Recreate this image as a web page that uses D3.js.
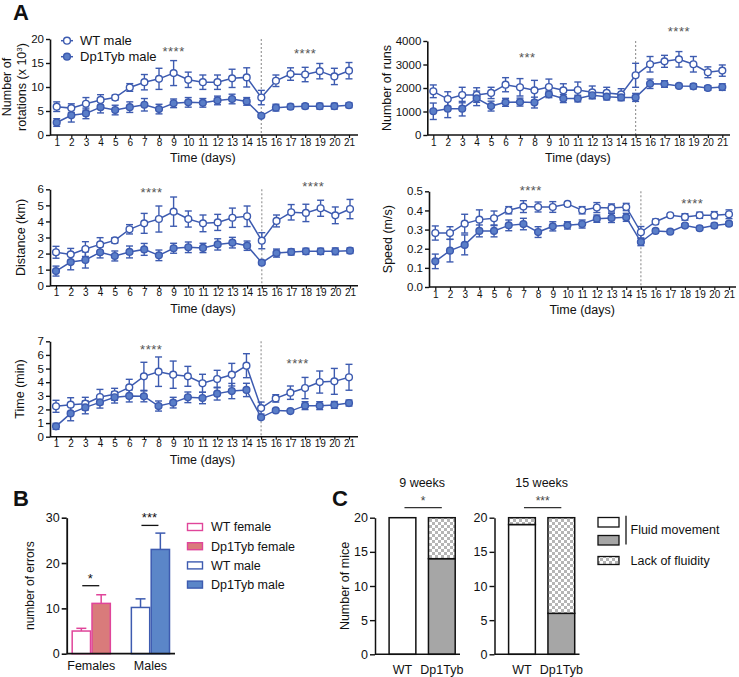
<!DOCTYPE html>
<html><head><meta charset="utf-8">
<script src="https://cdn.jsdelivr.net/npm/d3@7"></script>
<style>body{margin:0;background:#fff} text{font-family:"Liberation Sans",Arial,Helvetica,sans-serif;fill:#111}</style>
</head><body><svg id="c" width="739" height="677"></svg>
<script>
const days=[1,2,3,4,5,6,7,8,9,10,11,12,13,14,15,16,17,18,19,20,21];
const seriesNames=["WT male","Dp1Tyb male"];
const rotWT=[5.9,5.6,6.5,7.3,7.8,9.9,11.0,11.7,12.9,11.5,11.0,11.0,11.8,12.0,7.8,11.3,12.7,12.6,13.3,12.2,13.4];
const rotWTerr=[1.0,0.9,1.3,1.1,0.5,0.8,1.6,2.2,2.6,1.6,1.5,1.5,1.9,2.0,1.5,1.2,1.3,1.5,1.6,1.7,1.7];
const rotDp=[2.6,4.1,4.5,5.8,5.2,5.8,6.3,5.4,6.6,6.8,6.7,7.2,7.5,7.0,4.0,5.7,5.9,6.0,6.0,6.0,6.2];
const rotDperr=[0.8,1.4,1.1,1.2,1.0,1.1,1.3,1.0,0.9,1.0,0.9,0.9,1.0,0.8,0.3,0.7,0.5,0.5,0.6,0.6,0.5];
const runWT=[1860,1530,1700,1700,1790,2140,2030,1900,2040,1900,1915,1815,1790,1730,2540,3010,3135,3220,3010,2670,2740];
const runWTerr=[270,310,330,310,240,300,370,425,340,280,340,270,240,240,510,330,255,330,330,230,240];
const runDp=[1010,1120,1120,1560,1230,1390,1400,1380,1730,1550,1550,1690,1630,1600,1600,2180,2170,2090,2070,2000,2040];
const runDperr=[350,380,310,310,210,170,170,230,140,170,140,140,140,140,170,200,140,70,110,100,140];
const distWT=[2.08,1.95,2.28,2.57,2.82,3.51,3.88,4.15,4.61,4.15,3.88,3.94,4.23,4.32,2.80,4.03,4.57,4.53,4.82,4.38,4.77];
const distWTerr=[0.37,0.37,0.46,0.42,0.17,0.29,0.62,0.81,0.91,0.50,0.52,0.50,0.60,0.64,0.50,0.37,0.48,0.54,0.50,0.52,0.60];
const distDp=[0.91,1.47,1.60,2.08,1.85,2.10,2.26,1.89,2.33,2.39,2.35,2.57,2.68,2.49,1.43,2.03,2.10,2.14,2.14,2.14,2.18];
const distDperr=[0.31,0.48,0.50,0.35,0.31,0.37,0.37,0.33,0.31,0.33,0.29,0.35,0.33,0.29,0.08,0.25,0.19,0.19,0.19,0.21,0.17];
const spdWT=[0.282,0.282,0.331,0.352,0.359,0.401,0.420,0.418,0.418,0.434,0.401,0.415,0.413,0.418,0.286,0.341,0.375,0.366,0.375,0.375,0.380];
const spdWTerr=[0.037,0.033,0.049,0.051,0.038,0.019,0.031,0.026,0.028,0.010,0.019,0.026,0.021,0.019,0.030,0.014,0.005,0.017,0.016,0.019,0.023];
const spdDp=[0.134,0.190,0.220,0.293,0.293,0.322,0.329,0.287,0.317,0.322,0.329,0.357,0.361,0.364,0.235,0.293,0.289,0.321,0.307,0.321,0.331];
const spdDperr=[0.038,0.059,0.052,0.031,0.031,0.028,0.030,0.028,0.024,0.019,0.021,0.019,0.024,0.021,0.019,0.010,0.008,0.010,0.010,0.012,0.010];
const timWT=[2.23,2.35,2.42,2.91,3.11,3.62,4.43,4.77,4.55,4.43,3.92,4.23,4.55,5.21,2.10,2.81,3.23,3.57,4.01,4.06,4.36];
const timWTerr=[0.44,0.51,0.47,0.56,0.44,0.59,1.03,1.08,1.00,0.73,0.66,0.64,0.83,0.88,0.44,0.27,0.49,0.78,0.81,0.95,0.95];
const timDp=[0.76,1.71,2.15,2.52,2.89,2.99,2.96,2.25,2.50,2.89,2.84,3.16,3.35,3.43,1.42,1.93,1.88,2.28,2.28,2.33,2.47];
const timDperr=[0.22,0.54,0.47,0.42,0.42,0.44,0.40,0.37,0.39,0.39,0.42,0.47,0.56,0.49,0.10,0.10,0.10,0.29,0.29,0.25,0.22];

// Panel B
const bGroups=["Females","Males"];
const bSeries=["WT female","Dp1Tyb female","WT male","Dp1Tyb male"];
const bValues=[5.0,11.1,10.2,23.0];
const bErr=[0.6,1.9,1.9,3.6];
const bTicks=[0,10,20,30];
// Panel C
const cPanels=["9 weeks","15 weeks"];
const cGenos=["WT","Dp1Tyb"];
const cFluid=[[20,14],[19,6]];
const cLack=[[0,6],[1,14]];
const cTicks=[0,5,10,15,20];
const cSig=["*","***"];

const BL="#3d5bb0", BF="#5a7ec8";
const svg=d3.select("#c");
const defs=svg.append("defs");
const pat=defs.append("pattern").attr("id","chk").attr("width",6).attr("height",6).attr("patternUnits","userSpaceOnUse");
pat.append("rect").attr("width",6).attr("height",6).attr("fill","#fff");
pat.append("rect").attr("width",3).attr("height",3).attr("fill","#b5b5b5");
pat.append("rect").attr("x",3).attr("y",3).attr("width",3).attr("height",3).attr("fill","#b5b5b5");

function lineChart(o){
  const g=svg.append("g");
  const x=d3.scaleLinear().domain([1,21]).range([o.d1,o.d21]);
  const y=d3.scaleLinear().domain([0,o.yMax]).range([o.yb,o.yt]);
  // dotted line at day 15
  g.append("line").attr("x1",x(15)).attr("x2",x(15)).attr("y1",o.yt).attr("y2",o.yb)
    .attr("stroke","#999").attr("stroke-width",1.2).attr("stroke-dasharray","2,2");
  const xa=g.append("g").attr("transform",`translate(0,${o.yb})`)
    .call(d3.axisBottom(x).tickValues(days).tickFormat(d3.format("d")).tickSize(3).tickSizeOuter(0));
  xa.select(".domain").remove();
  xa.selectAll("line").attr("stroke","#111").attr("stroke-width",1.2);
  xa.selectAll("text").attr("font-size",10).attr("dy","0.55em").attr("y",5);
  g.append("line").attr("x1",o.ax0).attr("x2",o.ax1).attr("y1",o.yb).attr("y2",o.yb).attr("stroke","#111").attr("stroke-width",1.6);
  const ya=g.append("g").attr("transform",`translate(${o.ax0},0)`)
    .call(d3.axisLeft(y).tickValues(o.yTicks).tickFormat(o.fmt).tickSize(4).tickSizeOuter(0));
  ya.select(".domain").attr("stroke","#111").attr("stroke-width",1.6);
  ya.selectAll("line").attr("stroke","#111").attr("stroke-width",1.4);
  ya.selectAll("text").attr("font-size",11.5).attr("x",-6);
  g.append("text").attr("x",(o.d1+o.d21)/2).attr("y",o.yb+27).attr("text-anchor","middle").attr("font-size",12.5).text("Time (days)");
  const yl=g.append("text").attr("transform",`translate(${o.lx},${(o.yt+o.yb)/2}) rotate(-90)`).attr("text-anchor","middle").attr("font-size",12.5);
  o.label.forEach((t,i)=>{ const ts=yl.append("tspan").attr("x",0).attr("dy",i?15:0); if(Array.isArray(t)){ts.text(t[0]); ts.append("tspan").attr("dy",-4).attr("font-size",8).text(t[1]); ts.append("tspan").attr("dy",4).text(t[2]);} else ts.text(t); });
  const ser=[{v:o.wt,e:o.wte,open:true},{v:o.dp,e:o.dpe,open:false}];
  ser.forEach(s=>{
    g.append("path").datum(days).attr("fill","none").attr("stroke",BL).attr("stroke-width",1.5)
      .attr("d",d3.line().x(d=>x(d)).y((d,i)=>y(s.v[i])));
  });
  ser.forEach(s=>{
    days.forEach((d,i)=>{
      const cx=x(d), lo=y(s.v[i]-s.e[i]), hi=y(s.v[i]+s.e[i]);
      g.append("line").attr("x1",cx).attr("x2",cx).attr("y1",lo).attr("y2",hi).attr("stroke",BL).attr("stroke-width",1.4);
      [lo,hi].forEach(yy=>g.append("line").attr("x1",cx-3.5).attr("x2",cx+3.5).attr("y1",yy).attr("y2",yy).attr("stroke",BL).attr("stroke-width",1.4));
    });
  });
  ser.forEach(s=>{
    g.selectAll(null).data(days).enter().append("circle").attr("cx",d=>x(d)).attr("cy",(d,i)=>y(s.v[i])).attr("r",3.4)
      .attr("fill",s.open?"#fff":BF).attr("stroke",BL).attr("stroke-width",1.4);
  });
  o.stars.forEach(s=>g.append("text").attr("x",x(s[0])).attr("y",y(s[1])).attr("text-anchor","middle").attr("font-size",13).attr("letter-spacing",0.5).style("fill","#555").text(s[2]));
  return {g,x,y};
}

const r1=lineChart({ax0:50,ax1:358,d1:56.7,d21:349,yt:39,yb:135,yMax:20,yTicks:[0,5,10,15,20],fmt:d3.format("d"),
  label:["Number of",["rotations (x 10","3",")"]],lx:11,wt:rotWT,wte:rotWTerr,dp:rotDp,dpe:rotDperr,
  stars:[[9,16.5,"****"],[18,16.0,"****"]]});
lineChart({ax0:427.3,ax1:730,d1:433.3,d21:722.3,yt:41,yb:135,yMax:4000,yTicks:[0,1000,2000,3000,4000],fmt:d3.format("d"),
  label:["Number of runs"],lx:391,wt:runWT,wte:runWTerr,dp:runDp,dpe:runDperr,
  stars:[[7.5,3100,"***"],[18,4220,"****"]]});
lineChart({ax0:50,ax1:358,d1:56,d21:350,yt:189.3,yb:285.7,yMax:6,yTicks:[0,1,2,3,4,5,6],fmt:d3.format("d"),
  label:["Distance (km)"],lx:25,wt:distWT,wte:distWTerr,dp:distDp,dpe:distDperr,
  stars:[[7.5,5.5,"****"],[18.5,5.87,"****"]]});
lineChart({ax0:429,ax1:736,d1:435.3,d21:729,yt:191.3,yb:287,yMax:0.5,yTicks:[0,0.1,0.2,0.3,0.4,0.5],fmt:d3.format(".1f"),
  label:["Speed (m/s)"],lx:392,wt:spdWT,wte:spdWTerr,dp:spdDp,dpe:spdDperr,
  stars:[[7.5,0.48,"****"],[18.5,0.412,"****"]]});
lineChart({ax0:50,ax1:358,d1:56,d21:349,yt:341.3,yb:436.7,yMax:7,yTicks:[0,1,2,3,4,5,6,7],fmt:d3.format("d"),
  label:["Time (min)"],lx:24,wt:timWT,wte:timWTerr,dp:timDp,dpe:timDperr,
  stars:[[7.5,6.1,"****"],[17.5,5.05,"****"]]});

// legend panel A
seriesNames.forEach((n,i)=>{
  const yy=40.7+i*16;
  svg.append("line").attr("x1",61).attr("x2",73).attr("y1",yy).attr("y2",yy).attr("stroke",BL).attr("stroke-width",1.5);
  svg.append("circle").attr("cx",67).attr("cy",yy).attr("r",3.4).attr("fill",i?BF:"#fff").attr("stroke",BL).attr("stroke-width",1.4);
  svg.append("text").attr("x",80).attr("y",yy).attr("dy","0.35em").attr("font-size",13).text(n);
});

// panel letters
[["A",13,20],["B",13,506],["C",332,506]].forEach(p=>svg.append("text").attr("x",p[1]).attr("y",p[2]).attr("font-size",22).attr("font-weight","bold").text(p[0]));

// Panel B
(function(){
  const g=svg.append("g");
  const y=d3.scaleLinear().domain([0,30]).range([653.7,517.7]);
  const xb=d3.scaleBand().domain(bGroups).range([66.7,175]).paddingInner(0.33).paddingOuter(0.08);
  const xs=d3.scaleBand().domain([0,1]).range([0,xb.bandwidth()]);
  const strokes=["#e0459a","#e0459a",BL,BL], fills=["#fff","#d97b7b","#fff","#5b86c8"];
  bValues.forEach((v,i)=>{
    const gx=xb(bGroups[Math.floor(i/2)])+xs(i%2), w=xs.bandwidth();
    const top=y(v+bErr[i]);
    g.append("line").attr("x1",gx+w/2).attr("x2",gx+w/2).attr("y1",y(v)).attr("y2",top).attr("stroke",strokes[i]).attr("stroke-width",1.5);
    g.append("line").attr("x1",gx+w/2-5).attr("x2",gx+w/2+5).attr("y1",top).attr("y2",top).attr("stroke",strokes[i]).attr("stroke-width",1.5);
    g.append("rect").attr("x",gx+0.75).attr("y",y(v)).attr("width",w-1.5).attr("height",y(0)-y(v)).attr("fill",fills[i]).attr("stroke",strokes[i]).attr("stroke-width",1.5);
  });
  const ya=g.append("g").attr("transform","translate(66.7,0)").call(d3.axisLeft(y).tickValues(bTicks).tickSize(5).tickSizeOuter(0));
  ya.select(".domain").attr("stroke","#111").attr("stroke-width",1.8);
  ya.selectAll("line").attr("stroke","#111").attr("stroke-width",1.6);
  ya.selectAll("text").attr("font-size",12.5).attr("x",-7);
  g.append("line").attr("x1",66.7).attr("x2",175).attr("y1",653.7).attr("y2",653.7).attr("stroke","#111").attr("stroke-width",1.8);
  bGroups.forEach(gr=>g.append("text").attr("x",xb(gr)+xb.bandwidth()/2).attr("y",670).attr("text-anchor","middle").attr("font-size",12.5).text(gr));
  g.append("text").attr("transform",`translate(34,${(517.7+653.7)/2}) rotate(-90)`).attr("text-anchor","middle").attr("font-size",12).text("number of errors");
  [[0,15,"*"],[1,28.3,"***"]].forEach(s=>{
    const cx=xb(bGroups[s[0]])+xb.bandwidth()/2;
    g.append("line").attr("x1",cx-9).attr("x2",cx+8).attr("y1",y(s[1])).attr("y2",y(s[1])).attr("stroke","#111").attr("stroke-width",1.3);
    g.append("text").attr("x",cx-1).attr("y",y(s[1])-3).attr("text-anchor","middle").attr("font-size",13).text(s[2]);
  });
  bSeries.forEach((n,i)=>{
    const yy=527+i*19.2;
    g.append("rect").attr("x",187.5).attr("y",yy-3.5).attr("width",15).attr("height",7).attr("fill",fills[i]).attr("stroke",strokes[i]).attr("stroke-width",1.4);
    g.append("text").attr("x",211).attr("y",yy).attr("dy","0.35em").attr("font-size",12.5).text(n);
  });
})();

// Panel C
(function(){
  const y=d3.scaleLinear().domain([0,20]).range([654.3,517.7]);
  cPanels.forEach((p,pi)=>{
    const off=pi*119.5;
    const g=svg.append("g");
    const ax0=375+off, ax1=460+off;
    const xb=d3.scaleBand().domain(cGenos).range([382.8+off,461.5+off]).paddingInner(0.32).paddingOuter(0.16);
    cGenos.forEach((ge,gi)=>{
      const bx=xb(ge), w=xb.bandwidth();
      const f=cFluid[pi][gi], l=cLack[pi][gi];
      g.append("rect").attr("x",bx).attr("y",y(f)).attr("width",w).attr("height",y(0)-y(f)).attr("fill",gi?"#a6a6a6":"#fff").attr("stroke","#111").attr("stroke-width",1.5);
      if(l>0) g.append("rect").attr("x",bx).attr("y",y(f+l)).attr("width",w).attr("height",y(f)-y(f+l)).attr("fill","url(#chk)").attr("stroke","#111").attr("stroke-width",1.5);
      g.append("text").attr("x",bx+w/2).attr("y",674).attr("text-anchor","middle").attr("font-size",12.5).text(ge);
    });
    const ya=g.append("g").attr("transform",`translate(${ax0},0)`).call(d3.axisLeft(y).tickValues(cTicks).tickSize(5).tickSizeOuter(0));
    ya.select(".domain").attr("stroke","#111").attr("stroke-width",1.5);
    ya.selectAll("line").attr("stroke","#111").attr("stroke-width",1.4);
    ya.selectAll("text").attr("font-size",12.5).attr("x",-7);
    g.append("line").attr("x1",ax0).attr("x2",ax1).attr("y1",654.3).attr("y2",654.3).attr("stroke","#111").attr("stroke-width",1.5);
    const c0=xb("WT")+xb.bandwidth()/2, c1=xb("Dp1Tyb")+xb.bandwidth()/2;
    g.append("text").attr("x",(c0+c1)/2).attr("y",487).attr("text-anchor","middle").attr("font-size",12.5).text(p);
    g.append("line").attr("x1",c0+2).attr("x2",c1).attr("y1",507.7).attr("y2",507.7).attr("stroke","#333").attr("stroke-width",1.2);
    g.append("text").attr("x",(c0+c1)/2+1).attr("y",505).attr("text-anchor","middle").attr("font-size",12).style("fill","#444").text(cSig[pi]);
  });
  svg.append("text").attr("transform",`translate(349,586) rotate(-90)`).attr("text-anchor","middle").attr("font-size",12.5).text("Number of mice");
  const lg=svg.append("g");
  lg.append("rect").attr("x",598).attr("y",517.5).attr("width",21).attr("height",9.5).attr("fill","#fff").attr("stroke","#111").attr("stroke-width",1.3);
  lg.append("rect").attr("x",598).attr("y",535.5).attr("width",21).attr("height",9.5).attr("fill","#a6a6a6").attr("stroke","#111").attr("stroke-width",1.3);
  lg.append("rect").attr("x",598).attr("y",556.5).attr("width",21).attr("height",8).attr("fill","url(#chk)").attr("stroke","#111").attr("stroke-width",1.3);
  lg.append("line").attr("x1",626).attr("x2",626).attr("y1",515.7).attr("y2",544.5).attr("stroke","#111").attr("stroke-width",1.3);
  lg.append("text").attr("x",630.5).attr("y",530).attr("dy","0.35em").attr("font-size",12.5).text("Fluid movement");
  lg.append("text").attr("x",630.5).attr("y",560.5).attr("dy","0.35em").attr("font-size",12.5).text("Lack of fluidity");
})();
</script></body></html>
